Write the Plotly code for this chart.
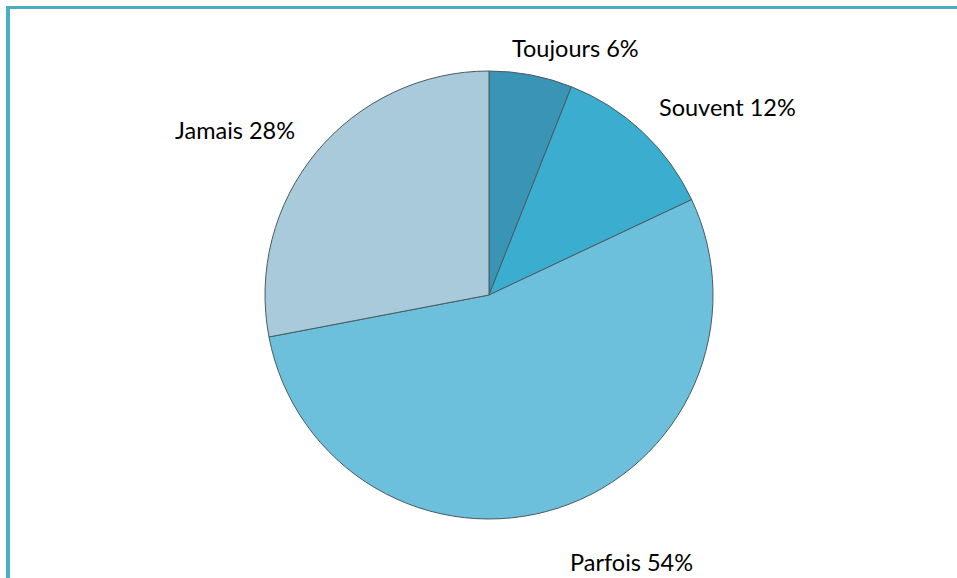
import plotly.graph_objects as go

labels = ["Toujours", "Souvent", "Parfois", "Jamais"]
values = [6, 12, 54, 28]
colors = ["#3A94B5", "#3BAED0", "#6CC0DB", "#A8CADA"]

W, H = 957, 578
cx, cy, r = 489, 295, 224

# label centres in pixels (layout only)
label_px = [(575, 48), (727, 107), (631, 562), (235, 130)]

total = sum(values)
annotations = []
for lab, val, (px, py) in zip(labels, values, label_px):
    annotations.append(dict(
        text=f"{lab} {round(100 * val / total)}%",
        x=px / W, y=1 - py / H, xref="paper", yref="paper",
        xanchor="center", yanchor="middle", showarrow=False,
        font=dict(family="Lato, Open Sans, sans-serif", size=23.5, color="#000000"),
    ))

fig = go.Figure(go.Pie(
    labels=labels,
    values=values,
    sort=False,
    direction="clockwise",
    rotation=0,
    marker=dict(colors=colors, line=dict(color="#4a5a60", width=1)),
    textinfo="none",
    showlegend=False,
    hoverinfo="label+percent",
    domain=dict(x=[(cx - r) / W, (cx + r) / W], y=[1 - (cy + r) / H, 1 - (cy - r) / H]),
))

fig.update_layout(
    width=W, height=H,
    margin=dict(l=0, r=0, t=0, b=0),
    paper_bgcolor="white",
    plot_bgcolor="white",
    annotations=annotations,
    shapes=[
        dict(type="line", xref="paper", yref="paper", x0=6 / W, x1=1, y0=1 - 7.5 / H, y1=1 - 7.5 / H,
             line=dict(color="#4BACC6", width=3)),
        dict(type="line", xref="paper", yref="paper", x0=8 / W, x1=8 / W, y0=0, y1=1 - 6 / H,
             line=dict(color="#4BACC6", width=4)),
    ],
)

fig.write_html("out.html", config={"displayModeBar": False},
               post_script="document.body.style.margin='0';document.body.style.padding='0';")
